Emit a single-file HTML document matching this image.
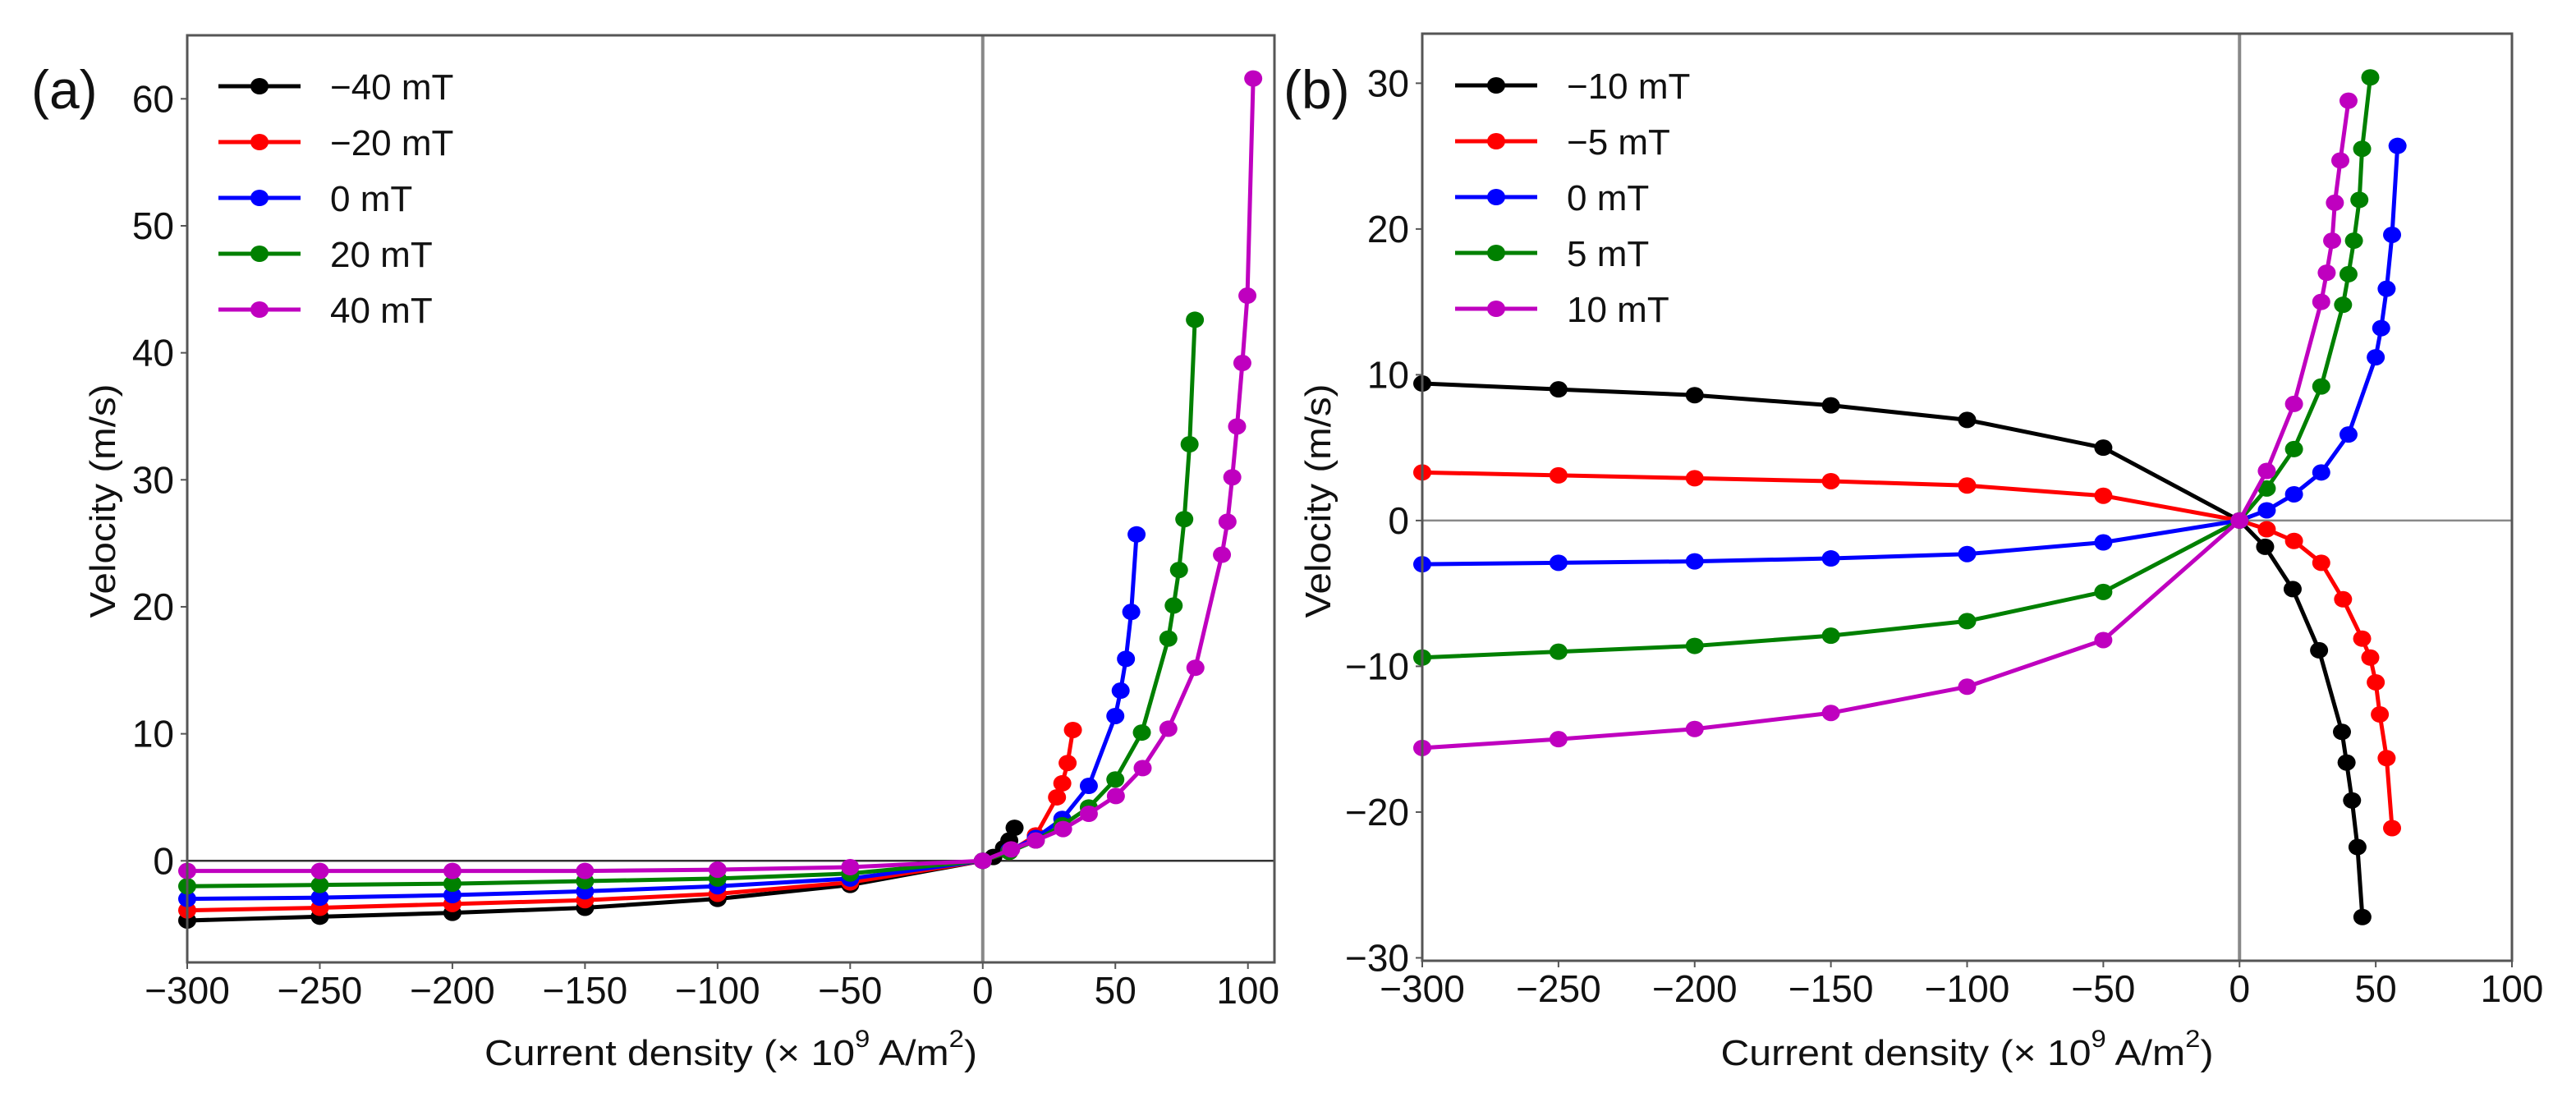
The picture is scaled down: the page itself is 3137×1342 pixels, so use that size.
<!DOCTYPE html>
<html><head><meta charset="utf-8"><style>
html,body{margin:0;padding:0;background:#fff;}
svg{display:block;font-family:"Liberation Sans",Arial,sans-serif;}
</style></head><body>
<svg id="chart" xmlns="http://www.w3.org/2000/svg" width="3137" height="1342" viewBox="0 0 3137 1342">
<rect width="3137" height="1342" fill="#fff"/>
</svg>
<script>
// Panel (a) data
const aLabels = ["\u221240 mT","\u221220 mT","0 mT","20 mT","40 mT"];
const aColors = ["#000000","#ff0000","#0000ff","#008000","#bf00bf"];
const aNegX = [-300,-250,-200,-150,-100,-50,0];
const aNegBlack = [-4.7,-4.4,-4.1,-3.7,-3.0,-1.9,0];
const aNegRed = [-3.9,-3.7,-3.4,-3.1,-2.6,-1.7,0];
const aNegBlue = [-3.0,-2.9,-2.7,-2.4,-2.0,-1.4,0];
const aNegGreen = [-2.0,-1.9,-1.8,-1.6,-1.4,-1.0,0];
const aNegMag = [-0.8,-0.8,-0.8,-0.8,-0.7,-0.5,0];
const aPosBlackX = [4,8,10,12];
const aPosBlackY = [0.3,1.0,1.6,2.6];
const aPosRedX = [10,20,28,30,32,34];
const aPosRedY = [0.7,2.0,5.0,6.1,7.7,10.3];
const aPosBlueX = [10,20,30,40,50,52,54,56,58];
const aPosBlueY = [0.8,1.8,3.3,5.9,11.4,13.4,15.9,19.6,25.7];
const aPosGreenX = [10,20,30,40,50,60,70,72,74,76,78,80];
const aPosGreenY = [0.7,1.6,2.8,4.2,6.4,10.1,17.5,20.1,22.9,26.9,32.8,42.6];
const aPosMagX = [10.7,20,30.3,40,50.2,60.3,70,80.2,90.2,92.3,94.1,95.9,97.9,99.8,102];
const aPosMagY = [0.9,1.6,2.5,3.7,5.1,7.3,10.4,15.2,24.1,26.7,30.2,34.2,39.2,44.5,61.6];
const aXTicks = [-300,-250,-200,-150,-100,-50,0,50,100];
const aYTicks = [0,10,20,30,40,50,60];

// Panel (b) data
const bLabels = ["\u221210 mT","\u22125 mT","0 mT","5 mT","10 mT"];
const bNegX = [-300,-250,-200,-150,-100,-50,0];
const bNegBlack = [9.4,9.0,8.6,7.9,6.9,5.0,0];
const bNegRed = [3.3,3.1,2.9,2.7,2.4,1.7,0];
const bNegBlue = [-3.0,-2.9,-2.8,-2.6,-2.3,-1.5,0];
const bNegGreen = [-9.4,-9.0,-8.6,-7.9,-6.9,-4.9,0];
const bNegMag = [-15.6,-15.0,-14.3,-13.2,-11.4,-8.2,0];
const bPosBlackX = [9.4,19.5,29.2,37.6,39.3,41.3,43.3,45.1];
const bPosBlackY = [-1.8,-4.7,-8.9,-14.5,-16.6,-19.2,-22.4,-27.2];
const bPosRedX = [10,20,30,38,45,48,50,51.5,54,56];
const bPosRedY = [-0.6,-1.4,-2.9,-5.4,-8.1,-9.4,-11.1,-13.3,-16.3,-21.1];
const bPosBlueX = [10,20,30,40,50,52,54,56,58];
const bPosBlueY = [0.7,1.8,3.3,5.9,11.2,13.2,15.9,19.6,25.7];
const bPosGreenX = [10,20,30,38,40,42,44,45,48];
const bPosGreenY = [2.2,4.9,9.2,14.8,16.9,19.2,22.0,25.5,30.4];
const bPosMagX = [10,20,30,32,34,35,37,40];
const bPosMagY = [3.4,8.0,15.0,17.0,19.2,21.8,24.7,28.8];
const bXTicks = [-300,-250,-200,-150,-100,-50,0,50,100];
const bYTicks = [-30,-20,-10,0,10,20,30];

const NS = "http://www.w3.org/2000/svg";
const svg = document.getElementById("chart");
function mk(tag, attrs, parent){
  const e = document.createElementNS(NS, tag);
  for (const k in attrs) e.setAttribute(k, attrs[k]);
  (parent||svg).appendChild(e);
  return e;
}

function panel(cfg){
  const g = mk("g", {});
  
  
  const sx = v => cfg.x0 + (v - cfg.xmin) / (cfg.xmax - cfg.xmin) * (cfg.x1 - cfg.x0);
  const sy = v => cfg.y1 - (v - cfg.ymin) / (cfg.ymax - cfg.ymin) * (cfg.y1 - cfg.y0);
  const zv = mk("line", {x1:sx(0),x2:sx(0),y1:cfg.y0,y2:cfg.y1,stroke:"#888",'stroke-width':4}, g);
  
  
  const zh = mk("line", {x1:cfg.x0,x2:cfg.x1,y1:sy(0),y2:sy(0),stroke:cfg.hzColor,'stroke-width':2.5}, g);
  
  
  cfg.series.forEach((s, i) => {
    const xs = cfg.negX.concat(s.px), ys = s.neg.concat(s.py);
    const sg = mk("g", {}, g);
    
    
    const pts = xs.map((x, j) => sx(x) + "," + sy(ys[j])).join(" ");
    const pl = mk("polyline", {points:pts, fill:"none", stroke:cfg.colors[i], 'stroke-width':5, 'stroke-linejoin':'round'}, sg);
    
    
    xs.forEach((x, j) => {
      const m = mk("ellipse", {cx:sx(x), cy:sy(ys[j]), rx:11, ry:10, fill:cfg.colors[i]}, sg);
      
      
    });
  });
  const fr = mk("rect", {x:cfg.x0,y:cfg.y0,width:cfg.x1-cfg.x0,height:cfg.y1-cfg.y0,fill:"none",stroke:"#555",'stroke-width':3}, g);
  
  
  cfg.xTicks.forEach(t => {
    const tl = mk("line", {x1:sx(t),x2:sx(t),y1:cfg.y1,y2:cfg.y1+8,stroke:"#555",'stroke-width':2}, g);
    
    
    const tx = mk("text", {x:sx(t), y:cfg.y1+50, 'text-anchor':'middle', 'font-size':46, fill:'#111'}, g);
    tx.textContent = (t < 0 ? "\u2212" + (-t) : "" + t);
    
    
  });
  cfg.yTicks.forEach(t => {
    const tl = mk("line", {x1:cfg.x0-8,x2:cfg.x0,y1:sy(t),y2:sy(t),stroke:"#555",'stroke-width':2}, g);
    
    
    const tx = mk("text", {x:cfg.x0-16, y:sy(t)+16, 'text-anchor':'end', 'font-size':46, fill:'#111'}, g);
    tx.textContent = (t < 0 ? "\u2212" + (-t) : "" + t);
    
    
  });
  const xt = mk("text", {x:(cfg.x0+cfg.x1)/2, y:1297, 'text-anchor':'middle', 'font-size':44, fill:'#111', textLength:600, lengthAdjust:'spacingAndGlyphs'}, g);
  
  
  xt.innerHTML = 'Current density (× 10<tspan dy="-22" font-size="30">9</tspan><tspan dy="22"> A/m</tspan><tspan dy="-22" font-size="30">2</tspan><tspan dy="22">)</tspan>';
  const yt = mk("text", {x:0, y:0, 'text-anchor':'middle', 'font-size':44, fill:'#111', textLength:285, lengthAdjust:'spacingAndGlyphs', transform:`translate(${cfg.ytx},610) rotate(-90)`}, g);
  yt.textContent = "Velocity (m/s)";
  
  
  const pl = mk("text", {x:cfg.labX, y:132, 'font-size':66, fill:'#111'}, g);
  pl.textContent = cfg.panelLabel;
  
  
  const lg = mk("g", {}, g);
  
  
  cfg.labels.forEach((lab, i) => {
    const y = cfg.legY0 + i * 68;
    const le = mk("g", {}, lg);
    
    
    mk("line", {x1:cfg.legX, x2:cfg.legX+100, y1:y, y2:y, stroke:cfg.colors[i], 'stroke-width':5}, le);
    mk("ellipse", {cx:cfg.legX+50, cy:y, rx:11, ry:10, fill:cfg.colors[i]}, le);
    const t = mk("text", {x:cfg.legX+136, y:y+16, 'font-size':44, fill:'#111'}, le);
    t.textContent = lab;
  });
}

panel({
  name:'panel-a', panelLabel:'(a)', labX:38, ytx:140,
  x0:228, x1:1552, y0:43, y1:1172, xmin:-300, xmax:110, ymin:-8, ymax:65,
  hzColor:'#333', negX:aNegX, labels:aLabels, colors:aColors,
  xTicks:aXTicks, yTicks:aYTicks, legX:266, legY0:105,
  series:[
    {neg:aNegBlack, px:aPosBlackX, py:aPosBlackY},
    {neg:aNegRed, px:aPosRedX, py:aPosRedY},
    {neg:aNegBlue, px:aPosBlueX, py:aPosBlueY},
    {neg:aNegGreen, px:aPosGreenX, py:aPosGreenY},
    {neg:aNegMag, px:aPosMagX, py:aPosMagY}
  ]
});
panel({
  name:'panel-b', panelLabel:'(b)', labX:1563, ytx:1620,
  x0:1732, x1:3059, y0:41, y1:1170, xmin:-300, xmax:100, ymin:-30.2, ymax:33.4,
  hzColor:'#888', negX:bNegX, labels:bLabels, colors:aColors,
  xTicks:bXTicks, yTicks:bYTicks, legX:1772, legY0:104,
  series:[
    {neg:bNegBlack, px:bPosBlackX, py:bPosBlackY},
    {neg:bNegRed, px:bPosRedX, py:bPosRedY},
    {neg:bNegBlue, px:bPosBlueX, py:bPosBlueY},
    {neg:bNegGreen, px:bPosGreenX, py:bPosGreenY},
    {neg:bNegMag, px:bPosMagX, py:bPosMagY}
  ]
});
</script>
</body></html>
